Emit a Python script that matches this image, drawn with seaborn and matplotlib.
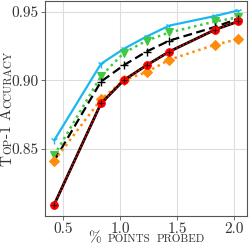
import numpy as np
import pandas as pd
import seaborn as sns
import matplotlib
matplotlib.use("Agg")
import matplotlib.pyplot as plt
from matplotlib.transforms import IdentityTransform

# data
pct_probed = [0.42, 0.83, 1.03, 1.23, 1.43, 1.83, 2.03]
acc_blue   = [0.856, 0.912, 0.923, 0.932, 0.940, 0.947, 0.951]
acc_green  = [0.845, 0.903, 0.920, 0.929, 0.935, 0.943, 0.946]
acc_black  = [0.841, 0.899, 0.911, 0.921, 0.929, 0.939, 0.945]
acc_red    = [0.809, 0.883, 0.900, 0.911, 0.921, 0.937, 0.943]
acc_orange = [0.841, 0.886, 0.900, 0.906, 0.915, 0.926, 0.930]

x_ticks = [0.5, 1.0, 1.5, 2.0]
y_ticks = [0.85, 0.90, 0.95]

sns.set_theme(style="whitegrid")
plt.rcParams['font.family'] = ['cmr10', 'DejaVu Serif']
plt.rcParams['axes.formatter.use_mathtext'] = True
plt.rcParams['mathtext.fontset'] = 'cm'

fig = plt.figure(figsize=(2.49, 2.49), dpi=100)
ax = fig.add_axes([0.181, 0.133, 0.811, 0.863])

df = pd.DataFrame({"x": pct_probed, "blue": acc_blue, "green": acc_green,
                   "black": acc_black, "red": acc_red, "orange": acc_orange})

sns.lineplot(data=df, x="x", y="blue", ax=ax, color="#1ab8f0", lw=1.6,
             marker="1", markersize=6, mew=1.0, mec="#1ab8f0")
sns.lineplot(data=df, x="x", y="green", ax=ax, color="#3ec93e", lw=1.8,
             ls=(0, (1, 1.5)), marker="v", markersize=6, mec="#3ec93e")
sns.lineplot(data=df, x="x", y="black", ax=ax, color="black", lw=1.6,
             ls=(0, (4, 2)), marker="+", markersize=6, mew=1.0, mec="black")
sns.lineplot(data=df, x="x", y="orange", ax=ax, color="#ff8c0a", lw=1.8,
             ls=(0, (1, 1.5)), marker="D", markersize=5, mec="#ff8c0a")
sns.lineplot(data=df, x="x", y="red", ax=ax, color="black", lw=2.0)
sns.lineplot(data=df, x="x", y="red", ax=ax, color="red", lw=1.2,
             ls=(0, (1, 1.2)), marker="o", markersize=5.5, mec="red")
sns.lineplot(data=df, x="x", y="red", ax=ax, color="black", lw=0,
             marker="+", markersize=5, mew=0.8, mec="#400000")

ax.set_xlim(0.34, 2.11)
ax.set_ylim(0.8007, 0.958)
ax.set_xticks(x_ticks)
ax.set_yticks(y_ticks)
ax.set_xticklabels([f"{v:.1f}" for v in x_ticks])
ax.set_yticklabels([f"{v:.2f}" for v in y_ticks])
ax.tick_params(labelsize=11, length=3, width=0.6, color="#555555", pad=1.5,
               left=True, bottom=True, labelcolor="#333333")
ax.grid(True, color="#dddddd", lw=0.8)
for s in ax.spines.values():
    s.set_color("#555555")
    s.set_linewidth(0.8)
ax.set_xlabel("")
ax.set_ylabel("")


def smallcaps(fig, xy, text, big=11, small=8, rotation=0, color="#333333"):
    # fake small caps: lowercase runs drawn as smaller capitals
    fig.canvas.draw()
    r = fig.canvas.get_renderer()
    runs = []
    for ch in text:
        sz = small if ch.islower() else big
        if runs and runs[-1][1] == sz:
            runs[-1][0] += ch.upper()
        else:
            runs.append([ch.upper(), sz])
    props = []
    total = 0
    for s, sz in runs:
        fp = matplotlib.font_manager.FontProperties(family=['cmr10'], size=sz)
        w, h, d = r.get_text_width_height_descent(s, fp, ismath=False)
        props.append((s, fp, w))
        total += w
    cx, cy = fig.transFigure.transform(xy)
    off = -total / 2
    for s, fp, w in props:
        if rotation == 90:
            px, py = cx, cy + off
        else:
            px, py = cx + off, cy
        fig.text(px, py, s, fontproperties=fp, rotation=rotation, color=color,
                 ha="left", va="baseline",
                 transform=IdentityTransform(), rotation_mode="anchor")
        off += w + 0.5


smallcaps(fig, (0.588, 0.028), "% points probed")
smallcaps(fig, (0.046, 0.562), "Top-1 Accuracy", rotation=90)

fig.savefig("out.png", dpi=100)
